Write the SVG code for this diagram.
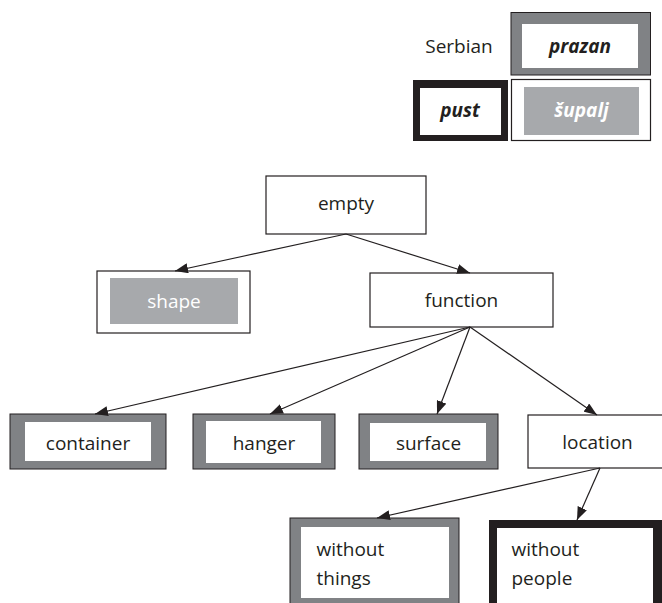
<svg xmlns="http://www.w3.org/2000/svg" width="662" height="603" viewBox="0 0 662 603">
  <defs>
    <marker id="arrow" markerUnits="userSpaceOnUse" markerWidth="13" markerHeight="10" refX="13" refY="5" orient="auto">
      <path d="M0,0 L13,5 L0,10 z" fill="#231f20"/>
    </marker>
    <style>
      text { font-family: "Open Sans", "Noto Sans", "DejaVu Sans", sans-serif; font-size: 19px; fill: #231f20; }
      .mid { text-anchor: middle; }
      .bi { font-weight: bold; font-style: italic; }
      .light { fill: #ffffff; }
      .plain { fill: #ffffff; stroke: #231f20; stroke-width: 1.2; }
      .grayframe { fill: #808285; stroke: #231f20; stroke-width: 1; }
      .blackframe { fill: #231f20; }
      .inner { fill: #ffffff; }
      .shade { fill: #a7a9ac; }
      .edge { fill: none; stroke: #231f20; stroke-width: 1.2; marker-end: url(#arrow); }
    </style>
  </defs>
  <rect width="662" height="603" fill="#ffffff"/>

  <!-- legend: Serbian terms -->
  <g id="legend-label">
    <text x="459" y="53" class="mid">Serbian</text>
  </g>
  <g id="prazan">
    <rect x="511" y="12.5" width="139.5" height="62.5" class="grayframe"/>
    <rect x="522" y="24" width="116" height="44" class="inner"/>
    <text x="580" y="53" class="mid bi">prazan</text>
  </g>
  <g id="pust">
    <rect x="413" y="80" width="95" height="61" class="blackframe"/>
    <rect x="420" y="88" width="81" height="47" class="inner"/>
    <text x="460" y="117" class="mid bi">pust</text>
  </g>
  <g id="supalj">
    <rect x="511.5" y="79.5" width="139" height="61" class="plain"/>
    <rect x="524" y="87" width="115" height="48" class="shade"/>
    <text x="581.5" y="117" class="mid bi light">šupalj</text>
  </g>

  <!-- tree nodes -->
  <g id="empty">
    <rect x="266" y="176" width="160" height="58" class="plain"/>
    <text x="346" y="210" class="mid">empty</text>
  </g>
  <g id="shape">
    <rect x="97" y="271" width="153" height="62" class="plain"/>
    <rect x="110" y="278" width="128" height="46" class="shade"/>
    <text x="174" y="308" class="mid light">shape</text>
  </g>
  <g id="function">
    <rect x="370" y="273" width="183" height="54" class="plain"/>
    <text x="461.5" y="307" class="mid">function</text>
  </g>
  <g id="container">
    <rect x="10" y="414" width="156" height="55" class="grayframe"/>
    <rect x="25" y="422" width="126" height="39" class="inner"/>
    <text x="88" y="450" class="mid">container</text>
  </g>
  <g id="hanger">
    <rect x="193" y="414" width="142" height="55" class="grayframe"/>
    <rect x="206" y="421" width="115" height="42" class="inner"/>
    <text x="264" y="450" class="mid">hanger</text>
  </g>
  <g id="surface">
    <rect x="359" y="414" width="139" height="55" class="grayframe"/>
    <rect x="370" y="423" width="116" height="38" class="inner"/>
    <text x="428.5" y="450" class="mid">surface</text>
  </g>
  <g id="location">
    <rect x="528" y="415" width="140" height="53" class="plain"/>
    <text x="597.5" y="449" class="mid">location</text>
  </g>
  <g id="without-things">
    <rect x="290" y="518" width="169" height="92" class="grayframe"/>
    <rect x="301" y="527" width="148" height="71" class="inner"/>
    <text x="316.5" y="556">without</text>
    <text x="316.5" y="585">things</text>
  </g>
  <g id="without-people">
    <rect x="489" y="520" width="173" height="92" class="blackframe"/>
    <rect x="497" y="528" width="156" height="84" class="inner"/>
    <text x="511.5" y="556">without</text>
    <text x="511.5" y="585">people</text>
  </g>

  <!-- connectors -->
  <g id="connectors">
    <line x1="346" y1="234" x2="175" y2="271" class="edge"/>
    <line x1="346" y1="234" x2="470" y2="273" class="edge"/>
    <line x1="470" y1="327" x2="95" y2="414" class="edge"/>
    <line x1="470" y1="327" x2="270" y2="414" class="edge"/>
    <line x1="470" y1="327" x2="437" y2="414" class="edge"/>
    <line x1="470" y1="327" x2="597" y2="415" class="edge"/>
    <line x1="600" y1="468" x2="377" y2="518" class="edge"/>
    <line x1="600" y1="468" x2="577" y2="520" class="edge"/>
  </g>
</svg>
